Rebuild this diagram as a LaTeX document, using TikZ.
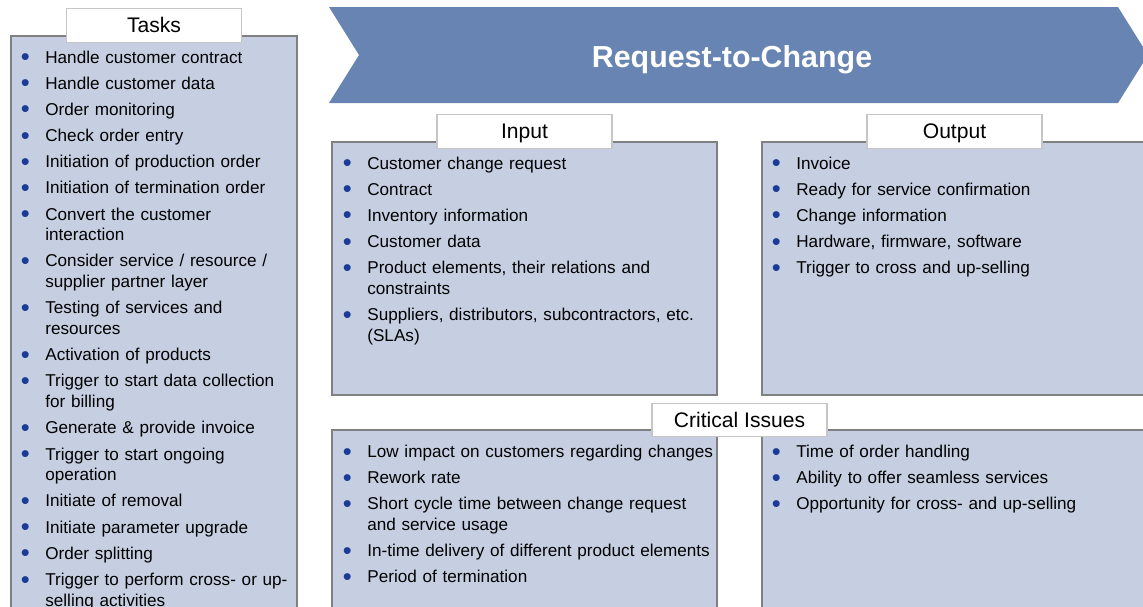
\documentclass[tikz,border=0pt]{standalone}
\usepackage{fontspec}
\setmainfont{Liberation Sans}
\usepackage[dvipsnames]{xcolor}
\definecolor{bannerblue}{HTML}{6784B2}
\definecolor{panelfill}{HTML}{C5CFE1}
\definecolor{dotblue}{HTML}{1A3C96}
\newcommand{\li}[1]{\noindent\llap{\makebox[22.7pt]{\raisebox{-1.5pt}{\fontsize{14.5pt}{0pt}\selectfont\textcolor{dotblue}{\textbullet}}}}#1\par\vspace{3.1pt}}

\begin{document}
\begin{tikzpicture}[x=0.02cm,y=-0.02cm]
		\tikzset{panel/.style = {draw=gray, line width=0.9pt, fill=panelfill},
			head/.style = {draw=gray!45, line width=0.6pt, fill=white, minimum width=3.5cm, minimum height=0.67cm, inner sep=0pt, text height=0.82em, text depth=0pt, font=\fontsize{12pt}{14pt}\selectfont},
			itemlist/.style = {anchor=base west, inner sep=0pt, text width=#1, align=left, font=\fontsize{9.75pt}{11.8pt}\selectfont}}
		\useasboundingbox (0,0) rectangle (1143,606);
		\clip (0,0) rectangle (1143,606);
		\fill[bannerblue] (329,7) -- (1118,7) -- (1148,55) -- (1118,103) -- (329,103) -- (359,55) -- cycle;
		\node[anchor=base, text=white, font=\bfseries\fontsize{17.3pt}{20pt}\selectfont] (title) at (732,67.7) {Request-to-Change};
		\draw[panel] (11,36) rectangle (297,620);
		\draw[panel] (332,142) rectangle (717,395);
		\draw[panel] (762,142) rectangle (1160,395);
		\draw[panel] (332,430) rectangle (717,620);
		\draw[panel] (762,430) rectangle (1160,620);
		\node[head] (tasks) at (154,25.5) {Tasks};
		\node[head] (input) at (524.5,131.5) {Input};
		\node[head] (output) at (954.5,131.5) {Output};
		\node[head] (issues) at (739.5,420) {Critical Issues};
		%\node[itemlist=5cm] at (45,63) {};
		\node[itemlist=5cm] (tasklist) at (45,63) {\li{Handle customer contract}\li{Handle customer data}\li{Order monitoring}\li{Check order entry}\li{Initiation of production order}\li{Initiation of termination order}\li{Convert the customer\\interaction}\li{Consider service / resource /\\supplier partner layer}\li{Testing of services and\\resources}\li{Activation of products}\li{Trigger to start data collection\\for billing}\li{Generate \& provide invoice}\li{Trigger to start ongoing\\operation}\li{Initiate of removal}\li{Initiate parameter upgrade}\li{Order splitting}\li{Trigger to perform cross- or up-\\selling activities}};
		\node[itemlist=7.4cm] (inputlist) at (367,169) {\li{Customer change request}\li{Contract}\li{Inventory information}\li{Customer data}\li{Product elements, their relations and\\constraints}\li{Suppliers, distributors, subcontractors, etc.\\(SLAs)}};
		\node[itemlist=6.8cm] (outputlist) at (796,169) {\li{Invoice}\li{Ready for service confirmation}\li{Change information}\li{Hardware, firmware, software}\li{Trigger to cross and up-selling}};
		\node[itemlist=7.4cm] (issuelist) at (367,457.5) {\li{Low impact on customers regarding changes}\li{Rework rate}\li{Short cycle time between change request\\and service usage}\li{In-time delivery of different product elements}\li{Period of termination}};
		\node[itemlist=6.8cm] (issuelist2) at (796,457.5) {\li{Time of order handling}\li{Ability to offer seamless services}\li{Opportunity for cross- and up-selling}};
		\end{tikzpicture}
\end{document}
